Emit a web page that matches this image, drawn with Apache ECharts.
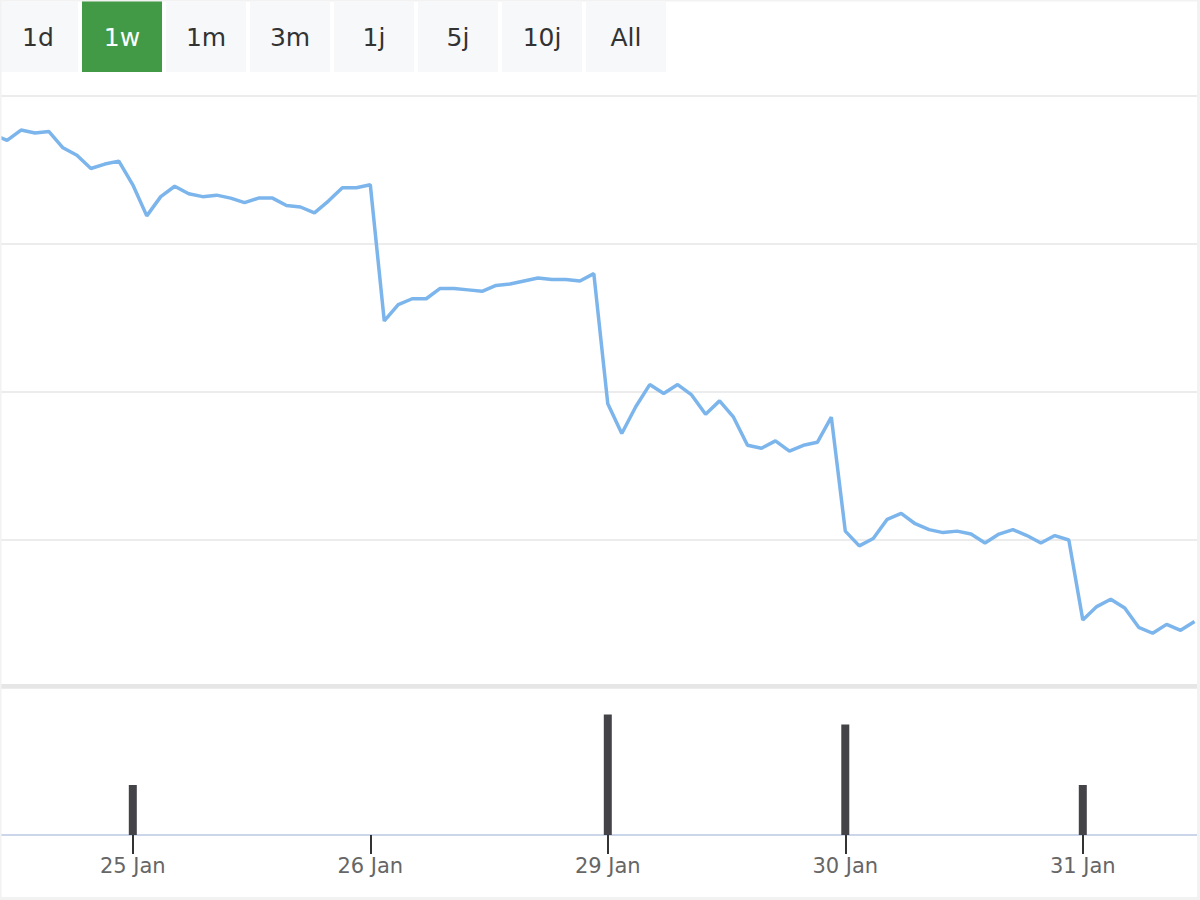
<!DOCTYPE html>
<html>
<head>
<meta charset="utf-8">
<script src="https://cdn.jsdelivr.net/npm/echarts@6/dist/echarts.min.js"></script>
<style>
  html, body { margin: 0; padding: 0; background: #ffffff; }
  #chart { width: 1200px; height: 900px; }
</style>
</head>
<body>
<div id="chart"></div>
<script>
// ---- data ----
const rangeButtons = ['1d', '1w', '1m', '3m', '1j', '5j', '10j', 'All'];
const selectedRange = '1w';

const dayLabels = ['25 Jan', '26 Jan', '29 Jan', '30 Jan', '31 Jan'];
const dayStartIndex = [10, 27, 44, 61, 78];
const volumeValues = [345, 0, 831, 762, 345];

const priceValues = [
  99.74, 99.70, 99.77, 99.75, 99.76, 99.65, 99.60, 99.51, 99.54, 99.56,
  99.40, 99.19, 99.32, 99.39, 99.34, 99.32, 99.33, 99.31, 99.28, 99.31,
  99.31, 99.26, 99.25, 99.21, 99.29, 99.38, 99.38, 99.40,
  98.48, 98.59, 98.63, 98.63, 98.70, 98.70, 98.69, 98.68, 98.72, 98.73,
  98.75, 98.77, 98.76, 98.76, 98.75, 98.80,
  97.92, 97.72, 97.90, 98.05, 97.99, 98.05, 97.98, 97.85, 97.94, 97.83,
  97.64, 97.62, 97.67, 97.60, 97.64, 97.66, 97.83,
  97.06, 96.96, 97.01, 97.14, 97.18, 97.11, 97.07, 97.05, 97.06, 97.04,
  96.98, 97.04, 97.07, 97.03, 96.98, 97.03, 97.00,
  96.46, 96.55, 96.60, 96.54, 96.41, 96.37, 96.43, 96.39, 96.45
];

const priceAxisMin = 96, priceAxisMax = 100, priceAxisStep = 1;
const volumeAxisMax = 1000;

// ---- chart ----
const chart = echarts.init(document.getElementById('chart'), null, { renderer: 'svg' });

const FONT = '"DejaVu Sans", Verdana, sans-serif';
const xMin = 0.494, xMax = 86.39;

const buttonGraphics = [];
rangeButtons.forEach((label, k) => {
  const sel = label === selectedRange;
  const x = -2 + k * 84;
  buttonGraphics.push({
    type: 'rect',
    shape: { x: x, y: sel ? 0 : 2, width: 80, height: sel ? 72 : 70 },
    style: { fill: sel ? '#439a46' : '#f7f8fa' },
    z: 10
  });
  buttonGraphics.push({
    type: 'text',
    x: x + 40,
    y: 37,
    style: {
      text: label,
      fill: sel ? '#ffffff' : '#333333',
      font: '25px ' + FONT,
      align: 'center',
      verticalAlign: 'middle'
    },
    z: 11
  });
});

const option = {
  animation: false,
  backgroundColor: '#ffffff',
  grid: [
    { left: 0, right: 0, top: 96, height: 592 },
    { left: 0, right: 0, top: 690, height: 145 }
  ],
  xAxis: [
    {
      type: 'value', gridIndex: 0, min: xMin, max: xMax, show: false
    },
    {
      type: 'value', gridIndex: 1, min: xMin, max: xMax,
      axisLine: { show: true, lineStyle: { color: '#ccd6eb', width: 2 } },
      axisTick: {
        show: true, customValues: dayStartIndex, length: 19,
        lineStyle: { color: '#333333', width: 2 }
      },
      axisLabel: {
        show: true, customValues: dayStartIndex, margin: 20,
        color: '#666666', fontSize: 21, fontFamily: FONT,
        formatter: function (v) {
          const k = dayStartIndex.indexOf(Math.round(v));
          return k >= 0 ? dayLabels[k] : '';
        }
      },
      splitLine: { show: false }
    }
  ],
  yAxis: [
    {
      type: 'value', gridIndex: 0, min: priceAxisMin, max: priceAxisMax, interval: priceAxisStep,
      axisLine: { show: false }, axisTick: { show: false }, axisLabel: { show: false },
      splitLine: { show: true, lineStyle: { color: '#e6e6e6', width: 1.5 } }
    },
    {
      type: 'value', gridIndex: 1, min: 0, max: volumeAxisMax,
      axisLine: { show: false }, axisTick: { show: false }, axisLabel: { show: false },
      splitLine: { show: false }
    }
  ],
  series: [
    {
      type: 'line',
      xAxisIndex: 0, yAxisIndex: 0,
      data: priceValues.map((v, i) => [i, v]),
      showSymbol: false,
      clip: true,
      lineStyle: { color: '#7cb5ec', width: 3.5 },
      itemStyle: { color: '#7cb5ec' }
    },
    {
      type: 'bar',
      xAxisIndex: 1, yAxisIndex: 1,
      data: dayStartIndex.map((x, k) => [x, volumeValues[k]]),
      barWidth: 8,
      itemStyle: { color: '#434348' }
    }
  ],
  graphic: [
    {
      type: 'rect',
      shape: { x: 0, y: 684, width: 1200, height: 4 },
      style: { fill: '#e6e6e6' },
      z: 5
    },
    {
      type: 'rect',
      shape: { x: 0, y: 0, width: 1198.5, height: 898.5 },
      style: { fill: 'none', stroke: '#f2f2f2', lineWidth: 3 },
      z: 20
    }
  ].concat(buttonGraphics)
};

chart.setOption(option);
</script>
</body>
</html>
